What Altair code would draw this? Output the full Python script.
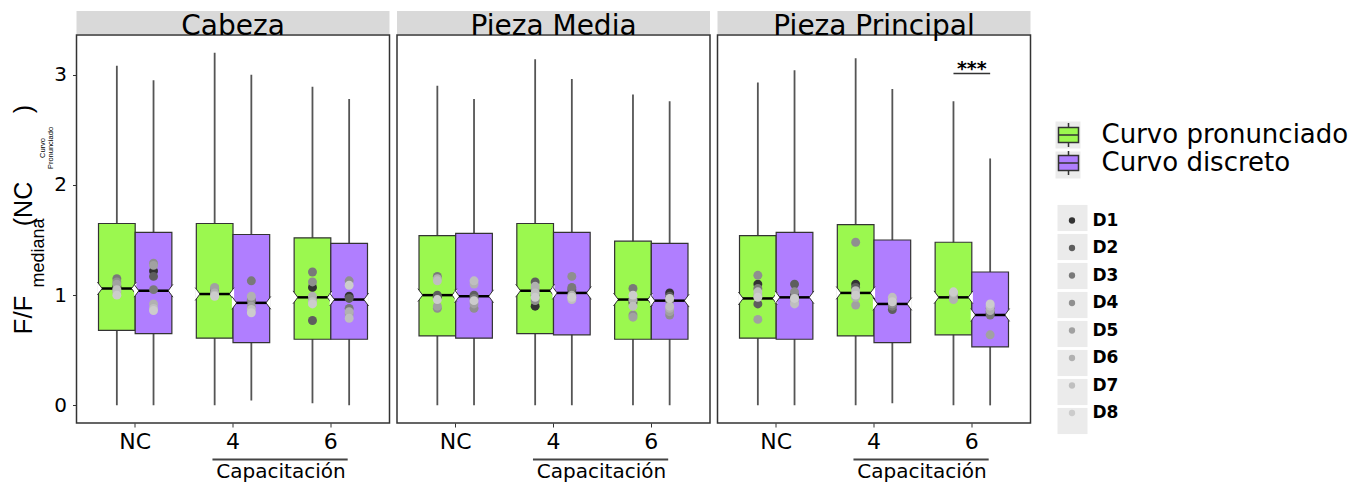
import altair as alt
import pandas as pd

panels = ["Cabeza", "Pieza Media", "Pieza Principal"]
groups = ["NC", "4", "6"]
types = ["Curvo pronunciado", "Curvo discreto"]
donors = ["D1", "D2", "D3", "D4", "D5", "D6", "D7", "D8"]
donor_colors = ["#333333", "#5E5E5E", "#797979", "#8F8F8F", "#A1A1A1", "#B1B1B1", "#BFBFBF", "#CCCCCC"]
type_colors = ["#9BF84F", "#B07EFF"]

# box order in each panel: NC/pron, NC/disc, 4/pron, 4/disc, 6/pron, 6/disc
whisker_low = {
    "Cabeza": [0.0, 0.0, 0.0, 0.045, 0.02, 0.0],
    "Pieza Media": [0.0, 0.0, 0.0, 0.0, 0.0, 0.0],
    "Pieza Principal": [0.0, 0.0, 0.0, 0.02, 0.0, 0.0],
}
quart1 = {
    "Cabeza": [0.68, 0.65, 0.61, 0.57, 0.60, 0.60],
    "Pieza Media": [0.63, 0.61, 0.65, 0.64, 0.60, 0.60],
    "Pieza Principal": [0.61, 0.60, 0.63, 0.57, 0.64, 0.53],
}
median = {
    "Cabeza": [1.06, 1.04, 1.01, 0.93, 0.98, 0.96],
    "Pieza Media": [1.00, 0.99, 1.04, 1.02, 0.96, 0.95],
    "Pieza Principal": [0.97, 0.98, 1.02, 0.92, 0.98, 0.82],
}
quart3 = {
    "Cabeza": [1.65, 1.57, 1.65, 1.55, 1.52, 1.47],
    "Pieza Media": [1.54, 1.56, 1.65, 1.57, 1.49, 1.47],
    "Pieza Principal": [1.54, 1.57, 1.64, 1.50, 1.48, 1.21],
}
whisker_high = {
    "Cabeza": [3.08, 2.95, 3.20, 3.00, 2.89, 2.78],
    "Pieza Media": [2.90, 2.78, 3.14, 2.96, 2.82, 2.76],
    "Pieza Principal": [2.93, 3.04, 3.15, 2.87, 2.76, 2.24],
}
# donor medians D1..D8 for each box
donor_vals = {
    "Cabeza": [
        [1.08, 1.06, 1.15, 1.12, 1.10, 1.03, 1.05, 1.00],
        [1.22, 1.17, 1.05, 1.29, 1.27, 0.92, 0.88, 0.86],
        [1.02, 1.03, 1.04, 1.06, 1.07, 1.02, 1.00, 0.99],
        [0.95, 0.94, 1.13, 0.96, 0.90, 0.99, 0.87, 0.84],
        [1.07, 0.77, 1.21, 1.12, 0.96, 0.99, 0.94, 0.92],
        [0.99, 0.97, 0.88, 1.13, 0.83, 0.85, 0.79, 1.09],
    ],
    "Pieza Media": [
        [0.98, 1.00, 1.17, 0.88, 0.90, 1.15, 1.13, 0.96],
        [0.99, 1.00, 0.97, 0.88, 0.92, 1.10, 1.13, 0.95],
        [0.90, 1.12, 1.00, 0.95, 1.05, 1.08, 1.02, 0.98],
        [1.02, 1.05, 1.07, 1.17, 0.99, 1.00, 0.96, 0.98],
        [0.93, 0.95, 1.06, 0.82, 0.80, 0.96, 0.90, 1.00],
        [1.02, 0.99, 0.95, 0.82, 0.85, 0.88, 0.90, 0.97],
    ],
    "Pieza Principal": [
        [1.10, 0.92, 1.06, 1.18, 0.78, 1.00, 1.03, 0.98],
        [1.00, 1.10, 0.98, 1.03, 0.96, 0.94, 0.92, 0.97],
        [1.10, 1.07, 1.02, 1.48, 0.91, 0.98, 1.04, 1.00],
        [0.93, 0.87, 0.90, 0.92, 0.95, 0.96, 0.98, 0.94],
        [0.99, 0.98, 1.00, 0.97, 1.01, 0.96, 1.02, 1.03],
        [0.83, 0.85, 0.82, 0.88, 0.64, 0.86, 0.90, 0.92],
    ],
}
x_title = "Capacitación"
sig_panel = "Pieza Principal"
sig_group = "6"
sig_label = "***"
sig_level = 3.01
y_title_parts = ["F/F", "mediana", "(NC", "Curvo", "Pronunciado", ")"]

box_rows, pt_rows = [], []
for p in panels:
    for i in range(6):
        g, t = groups[i // 2], types[i % 2]
        box_rows.append(dict(panel=p, g=g, t=t, lo=whisker_low[p][i], q1=quart1[p][i],
                             med=median[p][i], q3=quart3[p][i], hi=whisker_high[p][i]))
        for d, v in zip(donors, donor_vals[p][i]):
            pt_rows.append(dict(panel=p, g=g, t=t, d=d, val=v))
box_df = pd.DataFrame(box_rows)
pt_df = pd.DataFrame(pt_rows)

# key-background legends use their own (distinct) domains so they are not merged
type_keys = [t + " key" for t in types]
donor_keys = [d + " key" for d in donors]

W, H = 313, 388
FONT = "DejaVu Sans"
KEYGRAY = "#EBEBEB"
XS = alt.Scale(domain=groups, paddingInner=0.25, paddingOuter=0.225)
OS = alt.Scale(domain=types, paddingInner=0, paddingOuter=0)
YS = alt.Scale(domain=[-0.16, 3.36], nice=False, zero=False)
NOTCH = "M-1.06,-0.35L-0.8,0L-1.06,0.35M1.06,-0.35L0.8,0L1.06,0.35"
BOXGLYPH = "M-1,-0.75H1V0.75H-1Z M-1,0H1 M0,-0.75V-1.2 M0,0.75V1.2"
TYPEKEY = "M-0.926,-1H0.926V1H-0.926Z"
DONORKEY = "M-1,-0.87H1V0.87H-1Z"

fill_legend = alt.Legend(title=None, orient="none", legendX=979, legendY=87, zindex=2,
                         symbolType=BOXGLYPH, symbolSize=400, symbolStrokeColor="#333333",
                         symbolStrokeWidth=1.5, labelFontSize=26, labelFont=FONT,
                         labelColor="black", labelOffset=20, rowPadding=-2, labelLimit=400)
typekey_legend = alt.Legend(title=None, orient="none", legendX=978, legendY=86.5, zindex=1,
                            symbolSize=729, symbolType=TYPEKEY, symbolFillColor=KEYGRAY,
                            symbolStrokeWidth=0, symbolOpacity=1, labelExpr="''",
                            labelFontSize=1, labelOffset=0, rowPadding=3)
color_legend = alt.Legend(title=None, orient="none", legendX=987, legendY=177, zindex=2,
                          symbolType="circle", symbolSize=40, labelFontSize=17,
                          labelFontWeight="bold", labelFont=FONT, labelColor="black",
                          labelOffset=12, rowPadding=9.5)
donorkey_legend = alt.Legend(title=None, orient="none", legendX=981, legendY=168, zindex=1,
                             symbolSize=900, symbolFillColor=KEYGRAY, symbolStrokeWidth=0,
                             symbolOpacity=1, labelExpr="''", labelFontSize=1,
                             labelOffset=0, rowPadding=-2.2)

xaxis = alt.Axis(title=x_title, titleX=204, titleY=38, titleBaseline="top", titleAlign="center",
                 titleFontSize=20, titleFont=FONT, titleFontWeight="normal", titleColor="black",
                 labelAngle=0, domain=False, tickColor="#333333", tickSize=4, labelFontSize=22,
                 labelFont=FONT, labelColor="black", labelPadding=4, grid=False)


def make_panel(p, first):
    b = box_df[box_df.panel == p]
    pt = pt_df[pt_df.panel == p]
    yaxis = alt.Axis(title=None, values=[0, 1, 2, 3], domain=False, tickSize=4,
                     tickColor="#333333", labelFontSize=20, labelFont=FONT,
                     labelColor="black", labelPadding=6, grid=False) if first else None
    X = alt.X("g:N", scale=XS, axis=xaxis)
    XO = alt.XOffset("t:N", scale=OS)

    def Y(f):
        return alt.Y(f, scale=YS, axis=yaxis)

    whisk = alt.Chart(b).mark_rule(color="#555555", strokeWidth=1.8).encode(
        x=X, xOffset=XO, y=Y("lo:Q"), y2="hi:Q")
    bars = alt.Chart(b).mark_bar(stroke="#333333", strokeWidth=1.2, opacity=1).encode(
        x=X, xOffset=XO, y=Y("q1:Q"), y2="q3:Q",
        fill=alt.Fill("t:N", scale=alt.Scale(domain=types, range=type_colors), legend=fill_legend))
    notch = alt.Chart(b).mark_point(shape=NOTCH, size=1347, filled=True, fill="white",
                                    stroke="#333333", strokeWidth=1, opacity=1).encode(
        x=X, xOffset=XO, y=Y("med:Q"))
    medl = alt.Chart(b).mark_tick(color="black", thickness=2.5, size=30, opacity=1).encode(
        x=X, xOffset=XO, y=Y("med:Q"))
    dots = alt.Chart(pt).mark_circle(size=80, opacity=1).encode(
        x=X, xOffset=XO, y=Y("val:Q"),
        color=alt.Color("d:N", scale=alt.Scale(domain=donors, range=donor_colors), legend=color_legend))

    strip_df = pd.DataFrame({"panel": [p]})
    strip = alt.Chart(strip_df).mark_rect(fill="#D9D9D9").encode(
        x=alt.value(0), x2=alt.value(W), y=alt.value(-24), y2=alt.value(-1))
    stxt = alt.Chart(strip_df).mark_text(fontSize=28, font=FONT, baseline="alphabetic",
                                         color="black").encode(
        x=alt.value(W / 2), y=alt.value(0), text="panel:N")

    cap_df = pd.DataFrame({"g": ["4"], "g2": ["6"]})
    capline = alt.Chart(cap_df).mark_rule(color="#444444", strokeWidth=2).encode(
        x=alt.X("g:N", scale=XS, bandPosition=0.22, axis=xaxis),
        x2=alt.X2("g2", bandPosition=0.73), y=alt.value(H + 36.5))

    layers = [whisk, bars, notch, medl, dots, strip, stxt, capline]

    if p == sig_panel:
        sig_df = pd.DataFrame({"g": [sig_group], "g2": [sig_group], "y": [sig_level], "lab": [sig_label]})
        sigline = alt.Chart(sig_df).mark_rule(color="#333333", strokeWidth=1.5).encode(
            x=alt.X("g:N", scale=XS, bandPosition=0.25, axis=xaxis),
            x2=alt.X2("g2", bandPosition=0.75), y=alt.Y("y:Q", scale=YS, axis=yaxis))
        sigtxt = alt.Chart(sig_df).mark_text(fontSize=19, fontWeight="bold", font=FONT,
                                             baseline="alphabetic", dy=1, color="black").encode(
            x=alt.X("g:N", scale=XS, axis=xaxis), y=alt.Y("y:Q", scale=YS, axis=yaxis), text="lab:N")
        layers += [sigline, sigtxt]

    if first:
        specs = [(-44.5, 280, 26), (-33, 218, 18), (-44.5, 169, 25),
                 (-32, 113, 7.5), (-24, 113, 7.5), (-44.5, 74, 25)]
        for txt, (xx, yy, fs) in zip(y_title_parts, specs):
            tdf = pd.DataFrame({"s": [txt]})
            layers.append(alt.Chart(tdf).mark_text(angle=270, fontSize=fs, font="Liberation Sans",
                                                   align="center", baseline="alphabetic",
                                                   color="black").encode(
                x=alt.value(xx), y=alt.value(yy), text="s:N"))
        # grey legend-key backgrounds
        tk = alt.Chart(pd.DataFrame({"tk": type_keys})).mark_point(
            filled=True, fill=KEYGRAY, color=KEYGRAY, strokeWidth=0, opacity=0).encode(
            strokeDash=alt.StrokeDash("tk:N", scale=alt.Scale(domain=type_keys, range=[[1, 0], [1, 0]]),
                                      legend=typekey_legend))
        dk = alt.Chart(pd.DataFrame({"dk": donor_keys})).mark_point(
            filled=True, fill=KEYGRAY, color=KEYGRAY, strokeWidth=0, opacity=0).encode(
            shape=alt.Shape("dk:N", scale=alt.Scale(domain=donor_keys, range=[DONORKEY] * len(donors)),
                            legend=donorkey_legend))
        layers += [tk, dk]

    return alt.layer(*layers).properties(width=W, height=H)


chart = alt.hconcat(*[make_panel(p, i == 0) for i, p in enumerate(panels)], spacing=5.5).resolve_scale(
    fill="shared", color="shared").properties(
    padding={"left": 1.5, "top": 2, "right": 0, "bottom": 0}).configure_view(
    stroke="#333333", strokeWidth=1.5).configure_axis(grid=False)

chart.save("out.html", embed_options={"renderer": "svg", "actions": False})
